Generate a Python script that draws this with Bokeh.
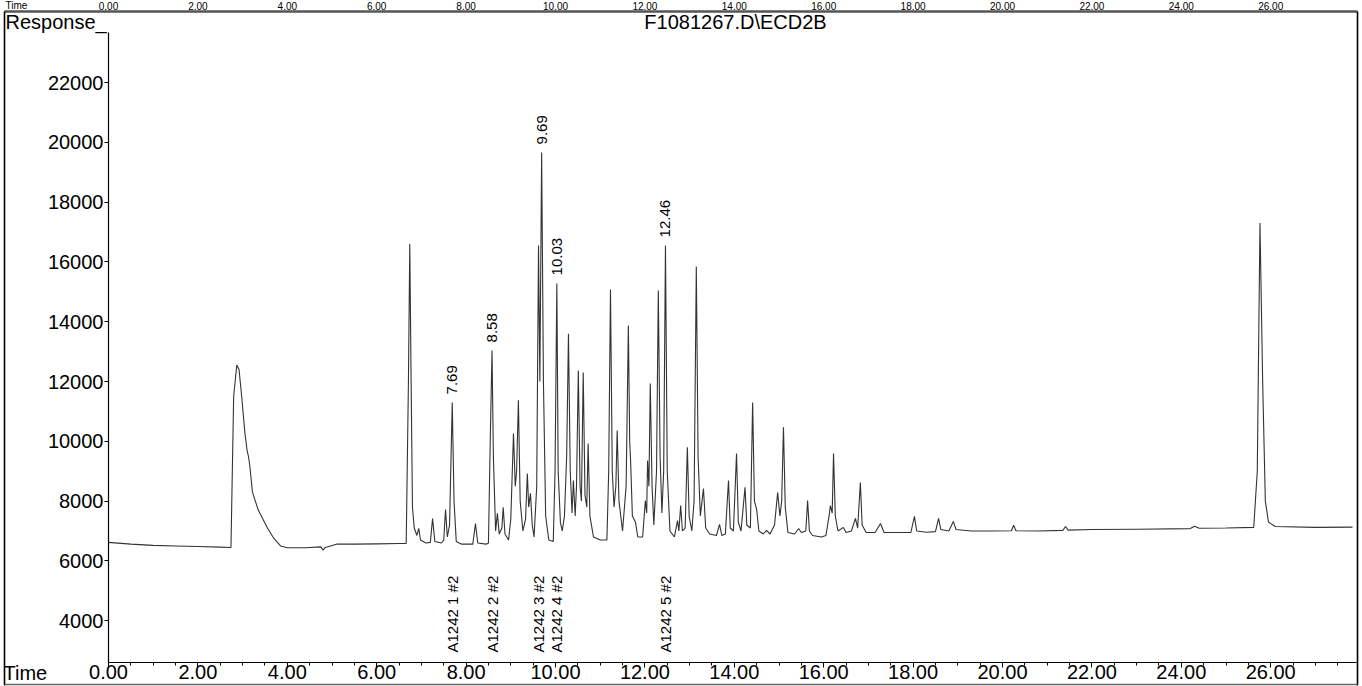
import numpy as np
from bokeh.plotting import figure
from bokeh.models import Range1d, NumeralTickFormatter, FixedTicker
from bokeh.embed import file_html
from bokeh.resources import INLINE
from bokeh.core.properties import value

# ---------------- data ----------------
trace_time = [
    0.00, 0.50, 1.00, 1.50, 2.00, 2.50, 2.74, 2.77, 2.80, 2.87, 2.92, 2.98, 3.05, 3.10, 3.13, 3.16,
    3.22, 3.35, 3.55, 3.70, 3.85, 4.00, 4.40, 4.75, 4.80, 4.85, 5.10, 5.50, 6.00, 6.50, 6.66,
    6.71, 6.74, 6.77, 6.80, 6.84, 6.90, 6.94, 6.98, 7.10, 7.20, 7.25, 7.30, 7.45, 7.50, 7.54,
    7.58, 7.63, 7.69, 7.73, 7.78, 7.90, 8.15, 8.21, 8.26, 8.45, 8.50, 8.54, 8.58, 8.61, 8.66,
    8.70, 8.74, 8.80, 8.83, 8.87, 8.95, 9.00, 9.06, 9.10, 9.13, 9.17, 9.21, 9.27, 9.33, 9.37,
    9.40, 9.44, 9.48, 9.52, 9.58, 9.62, 9.65, 9.69, 9.73, 9.78, 9.85, 9.95, 9.99, 10.03, 10.06,
    10.11, 10.15, 10.20, 10.25, 10.29, 10.33, 10.37, 10.40, 10.44, 10.47, 10.51, 10.55, 10.58,
    10.62, 10.66, 10.70, 10.73, 10.77, 10.85, 11.00, 11.15, 11.19, 11.23, 11.27, 11.31, 11.35,
    11.38, 11.42, 11.50, 11.58, 11.63, 11.66, 11.68, 11.72, 11.79, 11.84, 11.95, 12.01, 12.04,
    12.06, 12.09, 12.12, 12.16, 12.20, 12.26, 12.30, 12.34, 12.38, 12.42, 12.46, 12.50, 12.56,
    12.66, 12.73, 12.76, 12.80, 12.84, 12.90, 12.95, 12.99, 13.05, 13.10, 13.15, 13.19, 13.24,
    13.31, 13.36, 13.45, 13.60, 13.67, 13.72, 13.80, 13.87, 13.91, 13.98, 14.05, 14.09, 14.15,
    14.24, 14.28, 14.36, 14.41, 14.45, 14.50, 14.55, 14.65, 14.72, 14.80, 14.90, 14.97, 15.02,
    15.06, 15.10, 15.14, 15.20, 15.35, 15.44, 15.50, 15.60, 15.64, 15.68, 15.75, 15.95, 16.05,
    16.12, 16.15, 16.19, 16.22, 16.26, 16.32, 16.44, 16.50, 16.62, 16.71, 16.76, 16.82, 16.86,
    16.95, 17.15, 17.27, 17.35, 17.60, 17.95, 18.03, 18.08, 18.30, 18.50, 18.57, 18.62, 18.80,
    18.90, 18.96, 19.30, 19.80, 20.20, 20.25, 20.30, 20.80, 21.35, 21.41, 21.47, 22.00, 23.00,
    24.20, 24.30, 24.40, 25.00, 25.62, 25.70, 25.76, 25.82, 25.88, 25.95, 26.10, 27.00, 27.83,
]
trace_response = [
    6620, 6560, 6520, 6500, 6480, 6460, 6450, 9000, 11500, 12550, 12400, 11500, 10300, 9700, 9500, 9200,
    8300, 7700, 7120, 6750, 6500, 6440, 6440, 6470, 6360, 6450, 6560, 6560, 6570, 6580, 6580,
    12000, 16600, 12000, 7800, 7100, 6850, 7085, 6700, 6600, 6620, 7420, 6650, 6600, 6700, 7720,
    6800, 7200, 11300, 8000, 6650, 6560, 6560, 7250, 6600, 6560, 6600, 10000, 13040, 9500, 7000,
    7590, 6900, 7100, 7790, 6900, 6700, 7400, 10260, 8500, 9000, 11370, 8000, 7000, 7400, 8925,
    7800, 8260, 7200, 6800, 8500, 16550, 12000, 19660, 12000, 7500, 6700, 6650, 9000, 15280, 9000,
    7280, 7000, 7500, 9500, 13600, 9000, 7600, 8690, 7500, 8500, 12370, 8500, 8000,
    12300, 8200, 7800, 9930, 7500, 6800, 6700, 6700, 9000, 15080, 9000, 7800, 8500,
    10360, 8000, 7000, 8500, 13870, 10000, 9360, 7500, 7290, 6800, 6800, 8020, 7600,
    9360, 8500, 11930, 8500, 7200, 9000, 15045, 9500, 7600, 9000, 16550, 9000, 7000,
    6800, 7350, 7000, 7850, 7000, 7100, 9800, 7500, 7000, 8000, 15850, 9500, 7500,
    8420, 7100, 6900, 6850, 7220, 6850, 6900, 8690, 7100, 7000, 9590, 7300, 7000,
    8460, 7200, 7100, 11300, 8000, 7720, 7000, 6900, 7020, 6900, 7200, 8290, 7500,
    8000, 10470, 7800, 6950, 6900, 7085, 6950, 7000, 8020, 7000, 6850, 6800, 6850,
    7500, 7850, 7600, 9590, 7500, 7000, 7120, 6950, 7000, 7420, 7100, 8620, 7200,
    6950, 6950, 7250, 6950, 6950, 6950, 7490, 7000, 6960, 6980, 7420, 7050, 7000,
    7320, 7050, 7000, 7000, 7010, 7190, 7010, 7000, 7020, 7150, 7030, 7050, 7060,
    7080, 7160, 7090, 7100, 7120, 9000, 17300, 12000, 8000, 7300, 7150, 7120, 7130,
]

peak_label_times = [7.69, 8.58, 9.69, 10.03, 12.46]
peak_label_heights = [11300, 13040, 19660, 15280, 16550]
peak_label_text = ["7.69", "8.58", "9.69", "10.03", "12.46"]

compound_times = [7.69, 8.58, 9.62, 10.03, 12.46]
compound_names = ["A1242 1 #2", "A1242 2 #2", "A1242 3 #2", "A1242 4 #2", "A1242 5 #2"]

x_ticks = [0, 2, 4, 6, 8, 10, 12, 14, 16, 18, 20, 22, 24, 26]
x_tick_text = ["0.00", "2.00", "4.00", "6.00", "8.00", "10.00", "12.00", "14.00",
               "16.00", "18.00", "20.00", "22.00", "24.00", "26.00"]
x_minor_ticks = [0.5 * k for k in range(0, 56)]
y_ticks = [4000, 6000, 8000, 10000, 12000, 14000, 16000, 18000, 20000, 22000]

title_text = "F1081267.D\\ECD2B"
y_name = "Response_"
x_name = "Time"

# ---------------- layout helpers (pixel <-> data) ----------------
X0_PX, PX_PER_MIN = 108.0, 44.7
Y22_PX, PX_PER_2000 = 82.0, 59.8


def px2x(px):
    return (px - X0_PX) / PX_PER_MIN


def py2y(py):
    return 22000 - (py - Y22_PX) * 2000.0 / PX_PER_2000


FONT = "Liberation Sans"
W, H = 1362, 686

# the frame fills the page; the axes sit at fixed locations inside it
p = figure(width=W, height=H, output_backend="svg", toolbar_location=None, title=None,
           x_range=Range1d(px2x(0), px2x(W)), y_range=Range1d(py2y(H), py2y(0)),
           min_border_left=0, min_border_right=0, min_border_top=0, min_border_bottom=0)
p.outline_line_color = None
p.xgrid.visible = False
p.ygrid.visible = False
p.background_fill_color = "white"
p.border_fill_color = "white"


def style_labels(ax, size):
    ax.major_label_text_font = FONT
    ax.major_label_text_font_size = size
    ax.major_label_text_color = "black"


# time axis
xa = p.xaxis[0]
xa.fixed_location = py2y(662)
xa.bounds = (0, px2x(1356))
xa.ticker = FixedTicker(ticks=x_ticks, minor_ticks=x_minor_ticks)
xa.formatter = NumeralTickFormatter(format="0.00")
xa.axis_line_color = "black"
xa.axis_line_width = 1.2
xa.major_tick_out = 5
xa.major_tick_in = 0
xa.minor_tick_out = 3
xa.minor_tick_in = 0
xa.major_tick_line_color = "black"
xa.minor_tick_line_color = "black"
xa.major_label_standoff = -3
style_labels(xa, "20px")

# response axis
ya = p.yaxis[0]
ya.fixed_location = 0
ya.bounds = (py2y(662), py2y(32))
ya.ticker = FixedTicker(ticks=y_ticks)
ya.formatter = NumeralTickFormatter(format="0")
ya.major_tick_out = 4
ya.major_tick_in = 0
ya.minor_tick_line_color = None
ya.major_label_standoff = 1
ya.axis_line_color = "black"
ya.axis_line_width = 1.2
ya.major_tick_line_color = "black"
style_labels(ya, "20px")

# chromatogram trace
p.line(trace_time, trace_response, line_color="#333333", line_width=1.1)

# peak retention time labels
p.text(x=peak_label_times, y=peak_label_heights, text=peak_label_text,
       angle=np.pi / 2, text_align="left", text_baseline="middle", y_offset=-8,
       text_font=value(FONT), text_font_size="15px", text_color="black")

# compound labels near the bottom
p.text(x=compound_times, y=[py2y(652)] * len(compound_times), text=compound_names,
       angle=np.pi / 2, text_align="left", text_baseline="middle",
       text_font=value(FONT), text_font_size="15px", text_color="black")

# header texts: "Response_" and the file name
p.text(x=[px2x(5)], y=[py2y(21)], text=[y_name], text_align="left", text_baseline="middle",
       text_font=value(FONT), text_font_size="20px", text_color="black")
p.text(x=[px2x(735)], y=[py2y(21)], text=[title_text], text_align="center",
       text_baseline="middle", text_font=value(FONT), text_font_size="20px",
       text_color="black")
# "Time" beside the time axis labels
p.text(x=[px2x(3)], y=[py2y(672)], text=[x_name], text_align="left", text_baseline="middle",
       text_font=value(FONT), text_font_size="20px", text_color="black")

# remains of the previous page's time scale at the very top
p.text(x=[px2x(5)], y=[py2y(5)], text=[x_name], text_align="left", text_baseline="middle",
       text_font=value(FONT), text_font_size="10px", text_color="black")
p.text(x=x_ticks, y=[py2y(5)] * len(x_ticks), text=x_tick_text, text_align="center",
       text_baseline="middle", text_font=value(FONT), text_font_size="10px",
       text_color="black")

# page border lines
p.segment(x0=[px2x(4)], y0=[py2y(11)], x1=[px2x(1357)], y1=[py2y(11)],
          line_color="#555555", line_width=2.4)
p.segment(x0=[px2x(4), px2x(1357)], y0=[py2y(11), py2y(11)],
          x1=[px2x(4), px2x(1357)], y1=[py2y(685), py2y(685)],
          line_color="black", line_width=1.6)
p.segment(x0=[px2x(4)], y0=[py2y(684)], x1=[px2x(1357)], y1=[py2y(684)],
          line_color="#666666", line_width=1.4)

open("out.html", "w").write(file_html(p, INLINE))
